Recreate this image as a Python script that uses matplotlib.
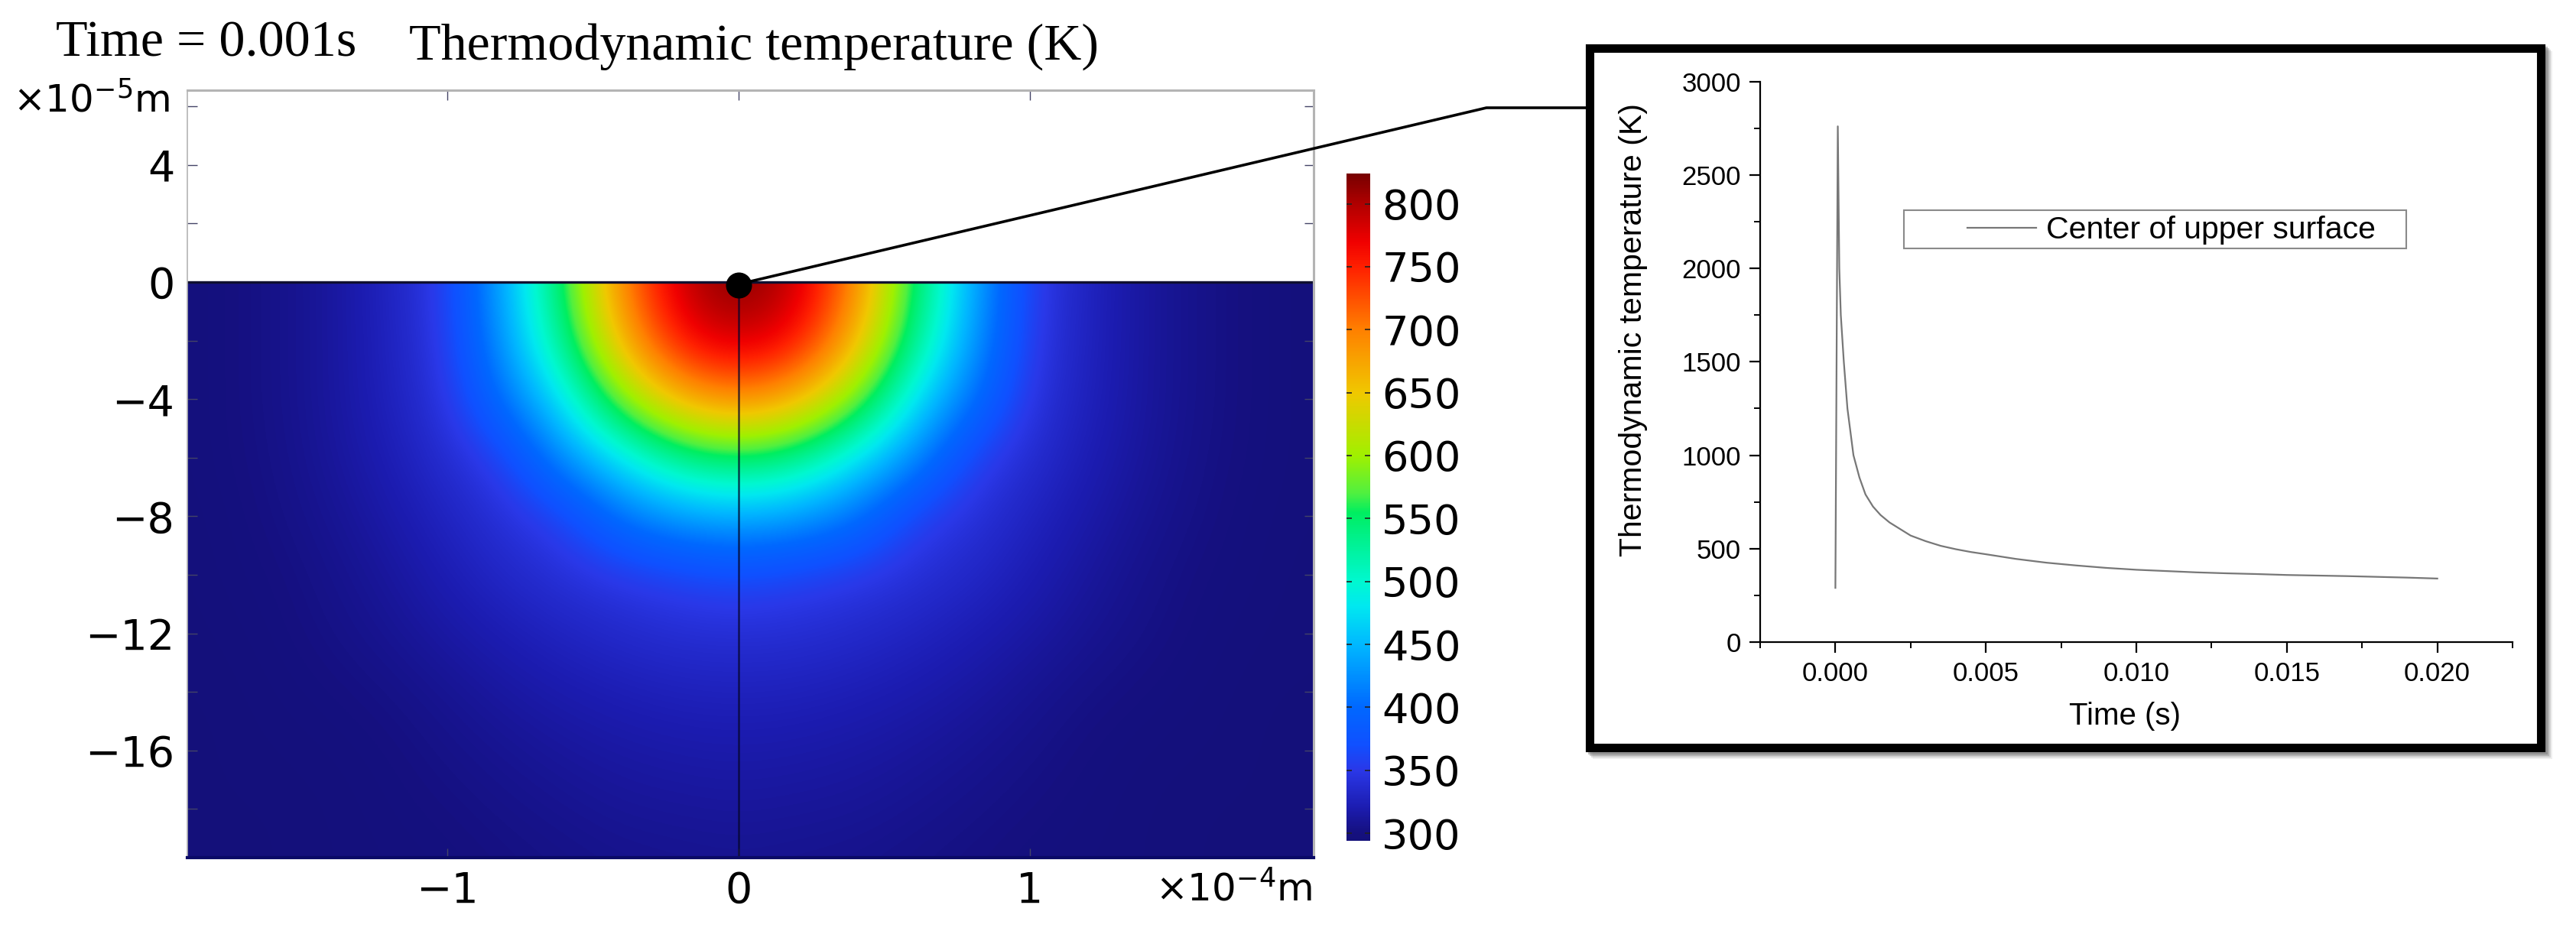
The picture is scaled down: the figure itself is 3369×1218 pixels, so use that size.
import numpy as np
import matplotlib
matplotlib.use("Agg")
import matplotlib.pyplot as plt
from matplotlib.cm import ScalarMappable
from matplotlib.colors import LinearSegmentedColormap, Normalize
from matplotlib.lines import Line2D
from matplotlib.patches import Rectangle

W, H = 3369, 1218

# temperature, one quarter (the map is mirrored about x=0)
r_vals = [0.0, 0.2, 0.4, 0.6, 0.8, 1.0, 1.2, 1.4, 1.6, 1.8, 2.0]
depth_vals = [0, -2, -4, -6, -8, -10, -12, -14, -16, -18, -20]
row_0 = [824, 790, 700, 555, 445, 354, 328, 312, 304, 299, 297]
row_2 = [790, 765, 670, 535, 435, 351, 327, 312, 304, 299, 297]
row_4 = [700, 670, 590, 480, 408, 346, 326, 312, 304, 299, 297]
row_6 = [555, 535, 480, 425, 358, 338, 322, 311, 303, 299, 297]
row_8 = [445, 435, 408, 358, 343, 329, 317, 308, 302, 298, 297]
row_10 = [365, 358, 350, 342, 333, 322, 312, 305, 300, 298, 296]
row_12 = [340, 339, 335, 329, 322, 315, 308, 303, 299, 297, 296]
row_14 = [327, 326, 323, 319, 314, 308, 303, 300, 298, 296, 296]
row_16 = [318, 317, 315, 312, 308, 304, 300, 298, 297, 296, 295]
row_18 = [312, 311, 310, 307, 304, 301, 299, 297, 296, 296, 295]
row_20 = [307, 306, 305, 303, 301, 299, 298, 297, 296, 295, 295]

cbar_ticks = [300, 350, 400, 450, 500, 550, 600, 650, 700, 750, 800]
map_xticks = [-1, 0, 1]
map_yticks = [4, 0, -4, -8, -12, -16]
probe_x = [0]
probe_y = [-0.1]

# center of upper surface, temperature against time
time_s = [0, 0.00008, 0.00013, 0.00018, 0.00028, 0.0004, 0.0006, 0.0008, 0.001, 0.00125, 0.0015,
          0.0018, 0.0022, 0.0025, 0.003, 0.0035, 0.004, 0.0045, 0.005, 0.006, 0.007, 0.008, 0.009,
          0.01, 0.011, 0.012, 0.013, 0.014, 0.015, 0.016, 0.017, 0.018, 0.019, 0.02]
temp_k = [290, 2760, 2000, 1750, 1500, 1250, 1000, 880, 790, 725, 680,
          640, 600, 570, 540, 515, 497, 482, 470, 445, 425, 410, 397,
          387, 380, 373, 368, 364, 359, 356, 353, 349, 345, 340]

cmap_vals = [294, 300, 320, 350, 370, 400, 450, 480, 500, 540, 555, 570, 600, 650, 700, 750, 770, 800, 824]
cmap_cols = ["#14107a", "#15107f", "#1c1cb0", "#2a38e8", "#1050ff", "#0068ff", "#00b8ff", "#00e8f0", "#00f8d0",
             "#00f080", "#00ee60", "#50f040", "#a0f000", "#f0c800", "#ff8000", "#ff2000", "#f00000", "#b00000", "#780000"]


def px_rect(x0, y0, x1, y1):
    return [x0 / W, 1 - y1 / H, (x1 - x0) / W, (y1 - y0) / H]


def fx(x):
    return x / W


def fy(y):
    return 1 - y / H


fig = plt.figure(figsize=(W / 100, H / 100), dpi=100, facecolor="white")

pos = [(v - cmap_vals[0]) / (cmap_vals[-1] - cmap_vals[0]) for v in cmap_vals]
cmap = LinearSegmentedColormap.from_list("temp", list(zip(pos, cmap_cols)), N=512)
norm = Normalize(cmap_vals[0], cmap_vals[-1])

# main map
ax = fig.add_axes(px_rect(245, 118, 1718, 1122))
quarter = np.array([row_0, row_2, row_4, row_6, row_8, row_10, row_12, row_14, row_16, row_18, row_20], dtype=float)
field = np.hstack([quarter[:, :0:-1], quarter])
xstep = r_vals[1] - r_vals[0]
ystep = depth_vals[0] - depth_vals[1]
im = ax.imshow(field, cmap=cmap, norm=norm, interpolation="bicubic", aspect="auto",
               extent=[-r_vals[-1] - xstep / 2, r_vals[-1] + xstep / 2,
                       depth_vals[-1] - ystep / 2, depth_vals[0] + ystep / 2])
ax.set_xlim(-1.892, 1.974)
ax.set_ylim(-19.66, 6.55)
clip = Rectangle((-1.892, -19.66), 1.892 + 1.974, 19.66, transform=ax.transData)
im.set_clip_path(clip)

ax.axhline(0, color="#101030", lw=2.4)
ax.plot([0, 0], [0, -19.66], color="#05052a", lw=1.8, alpha=0.75)
ax.plot(probe_x, probe_y, "o", color="black", ms=24.5, mew=0, clip_on=False, zorder=5)

ax.set_xticks(map_xticks)
ax.set_yticks(map_yticks)
ax.set_yticks([6, 2, -2, -6, -10, -14, -18], minor=True)
ax.tick_params(axis="both", which="both", direction="in", top=True, right=True, length=9, width=1,
               color="#444466", labelsize=40, pad=12)
for s in ax.spines.values():
    s.set_color("#b4b4b4")
    s.set_linewidth(1.2)
ax.spines["top"].set_linewidth(2.2)
ax.spines["right"].set_linewidth(2.2)
ax.spines["bottom"].set_color("#0a0a66")
ax.spines["bottom"].set_linewidth(3)

fig.text(fx(222), fy(132), r"×10$^{-5}$m", fontsize=36, ha="right", va="center", math_fontfamily="dejavusans")
fig.text(fx(1716), fy(1164), r"×10$^{-4}$m", fontsize=36, ha="right", va="center", math_fontfamily="dejavusans")
fig.text(fx(73), fy(73), "Time = 0.001s", fontsize=49, family="Liberation Serif", va="baseline")
fig.text(fx(535), fy(78), "Thermodynamic temperature (K)", fontsize=49, family="Liberation Serif", va="baseline")

# colorbar
cax = fig.add_axes(px_rect(1761, 227, 1792, 1100))
cb = fig.colorbar(ScalarMappable(norm=norm, cmap=cmap), cax=cax)
cb.set_ticks(cbar_ticks)
cb.outline.set_visible(False)
cax.tick_params(axis="y", direction="in", left=True, right=True, length=5, width=1.2, color="#222222",
                labelsize=39, pad=11)

# inset frame with shadow
for off, a in [(9, 0.10), (7, 0.2), (5, 0.3), (3, 0.4)]:
    fig.add_artist(Rectangle((fx(2079 + off), fy(978 + off)), (3323 - 2079) / W, (978 - 63) / H,
                             transform=fig.transFigure, facecolor="none", edgecolor="#666666",
                             lw=8, alpha=a))
fig.add_artist(Rectangle((fx(2079), fy(978)), (3323 - 2079) / W, (978 - 63) / H, transform=fig.transFigure,
                         facecolor="white", edgecolor="black", lw=8, zorder=3))

# connector from the probe point to the inset
fig.add_artist(Line2D([fx(965), fx(1944), fx(2074)], [fy(372), fy(141), fy(141)], color="black", lw=2.6, zorder=4))

# inset plot
ax2 = fig.add_axes(px_rect(2302, 106.6, 3286, 840), zorder=6)
ax2.patch.set_alpha(0)
ax2.plot(time_s, temp_k, color="#777777", lw=1.6, label="Center of upper surface")
ax2.set_xlim(-0.0025, 0.0225)
ax2.set_ylim(0, 3000)
ax2.set_xticks([0, 0.005, 0.01, 0.015, 0.02])
ax2.set_xticklabels(["0.000", "0.005", "0.010", "0.015", "0.020"])
ax2.set_xticks([-0.0025, 0.0025, 0.0075, 0.0125, 0.0175, 0.0225], minor=True)
ax2.set_yticks([0, 500, 1000, 1500, 2000, 2500, 3000])
ax2.set_yticks([250, 750, 1250, 1750, 2250, 2750], minor=True)
ax2.spines["top"].set_visible(False)
ax2.spines["right"].set_visible(False)
ax2.spines["left"].set_linewidth(1.6)
ax2.spines["bottom"].set_linewidth(1.6)
ax2.tick_params(axis="both", which="major", length=10, width=1.6, labelsize=25, pad=8)
ax2.tick_params(axis="both", which="minor", length=6, width=1.4)
for lab in ax2.get_xticklabels() + ax2.get_yticklabels():
    lab.set_family("Liberation Sans")

fig.text(fx(2136), fy(432), "Thermodynamic temperature (K)", rotation=90, fontsize=29.5, family="Liberation Sans",
         ha="center", va="center", zorder=7)
fig.text(fx(2779), fy(937), "Time (s)", fontsize=29, family="Liberation Sans", ha="center", va="center", zorder=7)

fig.add_artist(Rectangle((fx(2490), fy(325)), (3147 - 2490) / W, 50 / H, transform=fig.transFigure,
                         facecolor="white", edgecolor="#8a8a8a", lw=1.5, zorder=5))
leg = ax2.legend(loc="center left", bbox_to_anchor=(fx(2573 - 12), fy(301)), bbox_transform=fig.transFigure,
                 frameon=False, prop={"family": "Liberation Sans", "size": 29.5}, handlelength=2.2,
                 handletextpad=0.3, borderpad=0.3, borderaxespad=0)

fig.savefig("out.png", dpi=100)
